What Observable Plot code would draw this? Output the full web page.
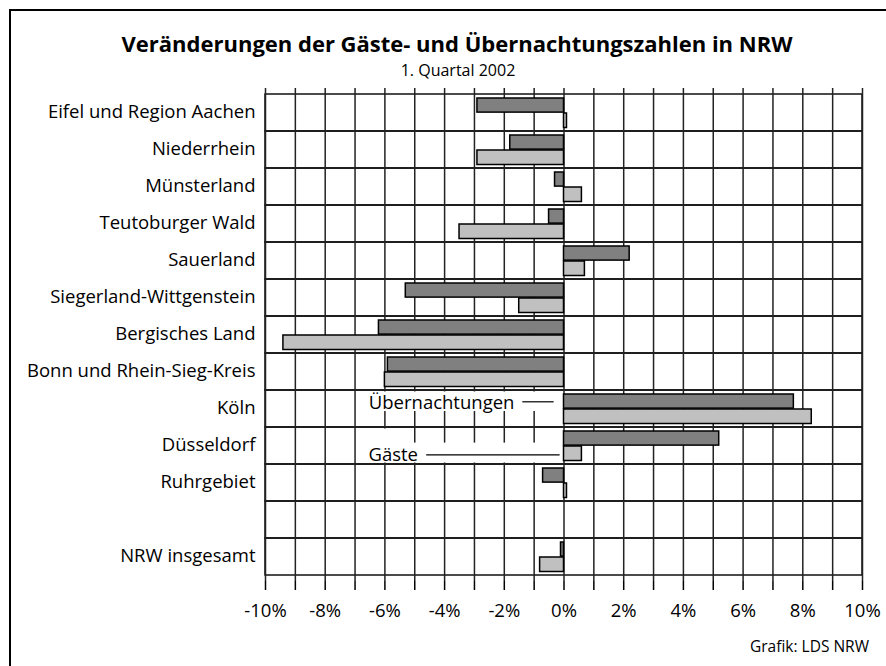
<!DOCTYPE html>
<html><head><meta charset="utf-8">
<script src="https://cdn.jsdelivr.net/npm/d3@7"></script>
<script src="https://cdn.jsdelivr.net/npm/@observablehq/plot@0.6"></script>
<style>
body{margin:0;background:#fff;}
#wrap{position:relative;width:886px;height:666px;overflow:hidden;font-family:"Open Sans",sans-serif;color:#000;}
#frame{position:absolute;left:9px;top:9px;width:920px;height:720px;border:2px solid #000;box-sizing:border-box;}
#chart{position:absolute;left:0;top:0;}
.t{position:absolute;white-space:nowrap;}
#title{left:457px;top:32px;transform:translateX(-50%);font-weight:bold;font-size:22px;line-height:22px;}
#sub{left:458px;top:61.5px;transform:translateX(-50%);font-size:16px;line-height:16px;}
#cap{right:17px;top:638px;font-size:15.5px;line-height:16px;}
</style></head>
<body><div id="wrap">
<div id="frame"></div>
<div id="chart"></div>
<div class="t" id="title">Veränderungen der Gäste- und Übernachtungszahlen in NRW</div>
<div class="t" id="sub">1. Quartal 2002</div>
<div class="t" id="cap">Grafik: LDS NRW</div>
</div>
<script>
const regions = ["Eifel und Region Aachen","Niederrhein","Münsterland","Teutoburger Wald","Sauerland","Siegerland-Wittgenstein","Bergisches Land","Bonn und Rhein-Sieg-Kreis","Köln","Düsseldorf","Ruhrgebiet"," ","NRW insgesamt"];
const uebernachtungen = [-2.9,-1.8,-0.3,-0.5,2.2,-5.3,-6.2,-5.9,7.7,5.2,-0.7,null,-0.1];
const gaeste = [0.1,-2.9,0.6,-3.5,0.7,-1.5,-9.4,-6.0,8.3,0.6,0.1,null,-0.8];
const xTicks = [-10,-9,-8,-7,-6,-5,-4,-3,-2,-1,0,1,2,3,4,5,6,7,8,9,10];
const seriesNames = ["Übernachtungen","Gäste"];

const rows = regions.map((r,i)=>({region:r,u:uebernachtungen[i],g:gaeste[i]})).filter(d=>d.u!=null);
const FS = 18.5;

const chart = Plot.plot({
  width:886, height:666,
  marginLeft:265, marginRight:24, marginTop:88, marginBottom:85,
  style:{fontFamily:"Open Sans, sans-serif", fontSize:FS+"px", color:"#000", background:"transparent", overflow:"visible"},
  x:{domain:[-10,10]},
  y:{domain:regions, padding:0},
  marks:[
    Plot.barX(regions,{x1:-10,x2:10,y:d=>d,fill:"none",stroke:"#111",strokeWidth:1.5}),
    Plot.ruleX(xTicks,{stroke:"#222",strokeWidth:1.5}),
    Plot.barX(["Köln"],{x1:-6.8,x2:-0.1,y:d=>d,fill:"#fff",insetTop:1.5,insetBottom:16}),
    Plot.barX(["Düsseldorf"],{x1:-6.8,x2:-5.5,y:d=>d,fill:"#fff",insetTop:1.5,insetBottom:20}),
    Plot.barX(["Düsseldorf"],{x1:-6.8,x2:-0.1,y:d=>d,fill:"#fff",insetTop:15.6,insetBottom:1.5}),
    Plot.barX(rows,{x1:0,x2:"u",y:"region",fill:"#808080",stroke:"#000",strokeWidth:1.5,insetTop:4,insetBottom:18.9}),
    Plot.barX(rows,{x1:0,x2:"g",y:"region",fill:"#c0c0c0",stroke:"#000",strokeWidth:1.5,insetTop:19,insetBottom:3.5}),
    Plot.ruleY(["Köln"],{y:d=>d,x1:-1.38,x2:-0.33,stroke:"#000",strokeWidth:1.2,dy:-7.2}),
    Plot.ruleY(["Düsseldorf"],{y:d=>d,x1:-4.6,x2:-0.13,stroke:"#000",strokeWidth:1.2,dy:8.9}),
    Plot.text([seriesNames[0]],{x:-6.54,y:()=>"Köln",text:d=>d,textAnchor:"start",dy:-6,fontSize:FS}),
    Plot.text([seriesNames[1]],{x:-6.55,y:()=>"Düsseldorf",text:d=>d,textAnchor:"start",dy:9,fontSize:FS}),
    Plot.axisY({tickSize:0,tickPadding:10,label:null,fontSize:FS,dy:-1}),
    Plot.axisX({ticks:xTicks,tickFormat:d=>d%2?"":d+"%",tickSize:9,tickPadding:13,label:null,fontSize:FS,strokeWidth:1.5})
  ]
});
document.getElementById("chart").appendChild(chart);
</script>
</body></html>
